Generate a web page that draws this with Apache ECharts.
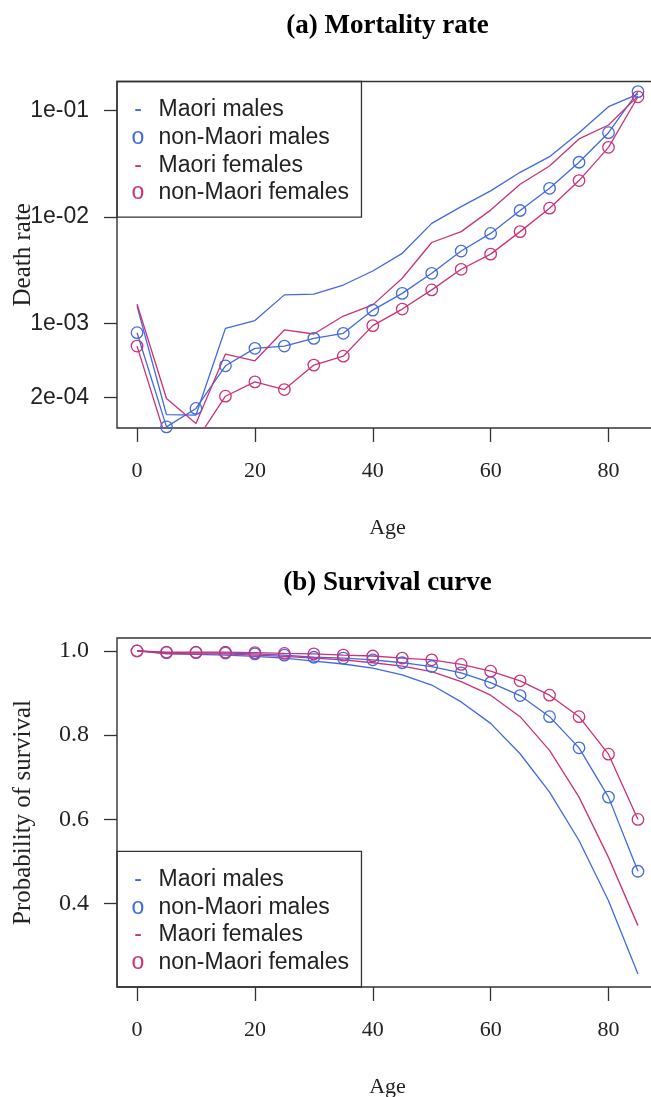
<!DOCTYPE html>
<html lang="en">

<head>
    <meta charset="UTF-8">
    <script src="https://cdn.jsdelivr.net/npm/echarts@6/dist/echarts.min.js"></script>
    <title>Mortality and survival</title>
    <style>
        html, body { margin: 0; padding: 0; background: #fff; }
        #main { width: 651px; height: 1097px; }
    </style>
</head>

<body>
    <div id="main"></div>
    <script>
        // ages (5-year groups)
        var ages = [0, 5, 10, 15, 20, 25, 30, 35, 40, 45, 50, 55, 60, 65, 70, 75, 80, 85];
        var seriesNames = ['Maori males', 'non-Maori males', 'Maori females', 'non-Maori females'];

        // (a) death rates
        var maoriMalesRate = [1.45e-3, 1.38e-4, 1.37e-4, 8.96e-4, 1.06e-3, 1.85e-3, 1.88e-3, 2.29e-3, 3.1e-3, 4.55e-3, 8.7e-3, 1.25e-2, 1.76e-2, 2.63e-2, 3.69e-2, 6.2e-2, 0.109, 0.143];
        var nonMaoriMalesRate = [8.15e-4, 1.06e-4, 1.58e-4, 3.98e-4, 5.81e-4, 6.1e-4, 7.21e-4, 8.05e-4, 1.33e-3, 1.91e-3, 2.95e-3, 4.78e-3, 7.0e-3, 1.15e-2, 1.86e-2, 3.27e-2, 6.2e-2, 0.151];
        var maoriFemalesRate = [1.52e-3, 1.96e-4, 1.14e-4, 5.13e-4, 4.44e-4, 8.65e-4, 7.93e-4, 1.17e-3, 1.49e-3, 2.65e-3, 5.75e-3, 7.28e-3, 1.16e-2, 2.03e-2, 3.02e-2, 5.42e-2, 7.33e-2, 0.137];
        var nonMaoriFemalesRate = [6.1e-4, 7.9e-5, 7.8e-5, 2.06e-4, 2.81e-4, 2.38e-4, 4.04e-4, 4.9e-4, 9.5e-4, 1.36e-3, 2.06e-3, 3.22e-3, 4.47e-3, 7.28e-3, 1.21e-2, 2.2e-2, 4.52e-2, 0.135];

        // (b) survival
        var maoriMalesSurv = [1.0, 0.993, 0.992, 0.990, 0.987, 0.983, 0.976, 0.969, 0.959, 0.943, 0.919, 0.879, 0.828, 0.756, 0.665, 0.55, 0.407, 0.233];
        var nonMaoriMalesSurv = [1.0, 0.996, 0.996, 0.995, 0.993, 0.990, 0.985, 0.983, 0.979, 0.972, 0.963, 0.948, 0.925, 0.894, 0.844, 0.770, 0.653, 0.477];
        var maoriFemalesSurv = [1.0, 0.994, 0.993, 0.993, 0.990, 0.987, 0.983, 0.979, 0.972, 0.964, 0.951, 0.927, 0.895, 0.844, 0.764, 0.653, 0.510, 0.348];
        var nonMaoriFemalesSurv = [1.0, 0.997, 0.997, 0.997, 0.996, 0.994, 0.993, 0.990, 0.988, 0.983, 0.979, 0.968, 0.952, 0.929, 0.895, 0.844, 0.755, 0.60];

        // tick labels
        var ageTicks = [0, 20, 40, 60, 80];
        var rateTicks = [0.1, 0.01, 0.001, 0.0002];
        var rateTickLabels = ['1e-01', '1e-02', '1e-03', '2e-04'];
        var survTicks = [0.4, 0.6, 0.8, 1.0];
        var survTickLabels = ['0.4', '0.6', '0.8', '1.0'];

        var blue = '#4169E1';
        var red = '#CD3278';
        var ink = '#222';
        var serif = '"Liberation Serif", "Times New Roman", serif';
        var sans = '"Liberation Sans", Arial, sans-serif';

        function pairs(arr) {
            return ages.map(function (a, i) { return [a, arr[i]]; });
        }

        function nearestLabel(v, ticks, labels, useLog) {
            var best = 0, bestD = Infinity;
            for (var i = 0; i < ticks.length; i++) {
                var d = useLog ? Math.abs(Math.log10(v) - Math.log10(ticks[i])) : Math.abs(v - ticks[i]);
                if (d < bestD) { bestD = d; best = i; }
            }
            return labels[best];
        }

        function makeSeries(gridIdx, data) {
            var colors = [blue, blue, red, red];
            return data.map(function (arr, k) {
                var withCircles = (k % 2 === 1);
                return {
                    name: seriesNames[k],
                    type: 'line',
                    xAxisIndex: gridIdx,
                    yAxisIndex: gridIdx,
                    data: pairs(arr),
                    clip: true,
                    symbol: withCircles ? 'circle' : 'none',
                    symbolSize: 11.5,
                    lineStyle: { color: colors[k], width: 1.3 },
                    itemStyle: { color: 'rgba(0,0,0,0)', borderColor: colors[k], borderWidth: 1.3 },
                    emphasis: { disabled: true },
                    animation: false
                };
            });
        }

        function ageAxis(gridIdx) {
            return {
                type: 'value',
                gridIndex: gridIdx,
                min: -3.4,
                max: 88.4,
                axisLine: { show: false, onZero: false },
                axisTick: { show: true, customValues: ageTicks, length: 14, lineStyle: { color: '#333', width: 1.3 } },
                axisLabel: { customValues: ageTicks, margin: 32, fontFamily: serif, fontSize: 22, color: ink },
                splitLine: { show: false },
                name: 'Age',
                nameLocation: 'middle',
                nameGap: 89,
                nameMoveOverlap: false,
                nameTextStyle: { fontFamily: serif, fontSize: 22, color: ink }
            };
        }

        function makeLegend(pos) {
            var rich = {
                mb: { color: blue, width: 13, align: 'center', fontFamily: sans, fontSize: 23, lineHeight: 27.7 },
                mr: { color: red, width: 13, align: 'center', fontFamily: sans, fontSize: 23, lineHeight: 27.7 },
                t: { color: ink, padding: [0, 0, 0, 14], fontFamily: sans, fontSize: 23, lineHeight: 27.7 }
            };
            var lg = {
                left: 117,
                orient: 'vertical',
                icon: 'none',
                itemWidth: 0,
                itemHeight: 0,
                itemGap: 0,
                padding: [14.6, 12.5, 10.3, 9.5],
                borderColor: '#333',
                borderWidth: 1.3,
                selectedMode: false,
                data: seriesNames,
                formatter: function (name) {
                    var k = seriesNames.indexOf(name);
                    var key = k < 2 ? 'mb' : 'mr';
                    var mark = k % 2 === 0 ? '-' : 'o';
                    return '{' + key + '|' + mark + '}{t|' + name + '}';
                },
                textStyle: { fontFamily: sans, fontSize: 23, color: ink, lineHeight: 27.7, rich: rich }
            };
            for (var p in pos) lg[p] = pos[p];
            return lg;
        }

        function rateAxis() {
            return {
                type: 'log',
                logBase: 10,
                gridIndex: 0,
                min: 1.035e-4,
                max: 0.188,
                axisLine: { show: false, onZero: false },
                axisTick: { show: true, inside: false, customValues: rateTicks, length: 13, lineStyle: { color: '#333', width: 1.3 } },
                axisLabel: {
                    customValues: rateTicks, margin: 28, fontFamily: sans, fontSize: 23, color: ink,
                    formatter: function (v) { return nearestLabel(v, rateTicks, rateTickLabels, true); }
                },
                splitLine: { show: false },
                minorTick: { show: false },
                name: 'Death rate',
                nameLocation: 'middle',
                nameGap: 81,
                nameMoveOverlap: false,
                nameTextStyle: { fontFamily: serif, fontSize: 25, color: ink }
            };
        }

        function survAxis() {
            return {
                type: 'value',
                gridIndex: 1,
                min: 0.2023,
                max: 1.0307,
                axisLine: { show: false, onZero: false },
                axisTick: { show: true, inside: false, customValues: survTicks, length: 13, lineStyle: { color: '#333', width: 1.3 } },
                axisLabel: {
                    customValues: survTicks, margin: 28, fontFamily: serif, fontSize: 24, color: ink,
                    formatter: function (v) { return nearestLabel(v, survTicks, survTickLabels, false); }
                },
                splitLine: { show: false },
                name: 'Probability of survival',
                nameLocation: 'middle',
                nameGap: 81,
                nameMoveOverlap: false,
                nameTextStyle: { fontFamily: serif, fontSize: 25, color: ink }
            };
        }

        var chart = echarts.init(document.getElementById('main'), null, { renderer: 'canvas' });

        var option = {
            backgroundColor: '#fff',
            animation: false,
            title: [
                {
                    text: '(a) Mortality rate', left: 387.5, top: 13, textAlign: 'center', padding: 0,
                    textStyle: { fontFamily: serif, fontWeight: 'bold', fontSize: 27, color: '#000' }
                },
                {
                    text: '(b) Survival curve', left: 387.5, top: 570, textAlign: 'center', padding: 0,
                    textStyle: { fontFamily: serif, fontWeight: 'bold', fontSize: 27, color: '#000' }
                }
            ],
            grid: [
                { left: 117, top: 81.5, width: 541, height: 346.5, show: true, borderColor: '#333', borderWidth: 1.4, backgroundColor: 'transparent', outerBoundsMode: 'none', containLabel: false },
                { left: 117, top: 638, width: 541, height: 349, show: true, borderColor: '#333', borderWidth: 1.4, backgroundColor: 'transparent', outerBoundsMode: 'none', containLabel: false }
            ],
            legend: [
                makeLegend({ top: 81.5 }),
                makeLegend({ bottom: 110 })
            ],
            xAxis: [ageAxis(0), ageAxis(1)],
            yAxis: [rateAxis(), survAxis()],
            series: makeSeries(0, [maoriMalesRate, nonMaoriMalesRate, maoriFemalesRate, nonMaoriFemalesRate])
                .concat(makeSeries(1, [maoriMalesSurv, nonMaoriMalesSurv, maoriFemalesSurv, nonMaoriFemalesSurv]))
        };

        chart.setOption(option);
    </script>
</body>

</html>
